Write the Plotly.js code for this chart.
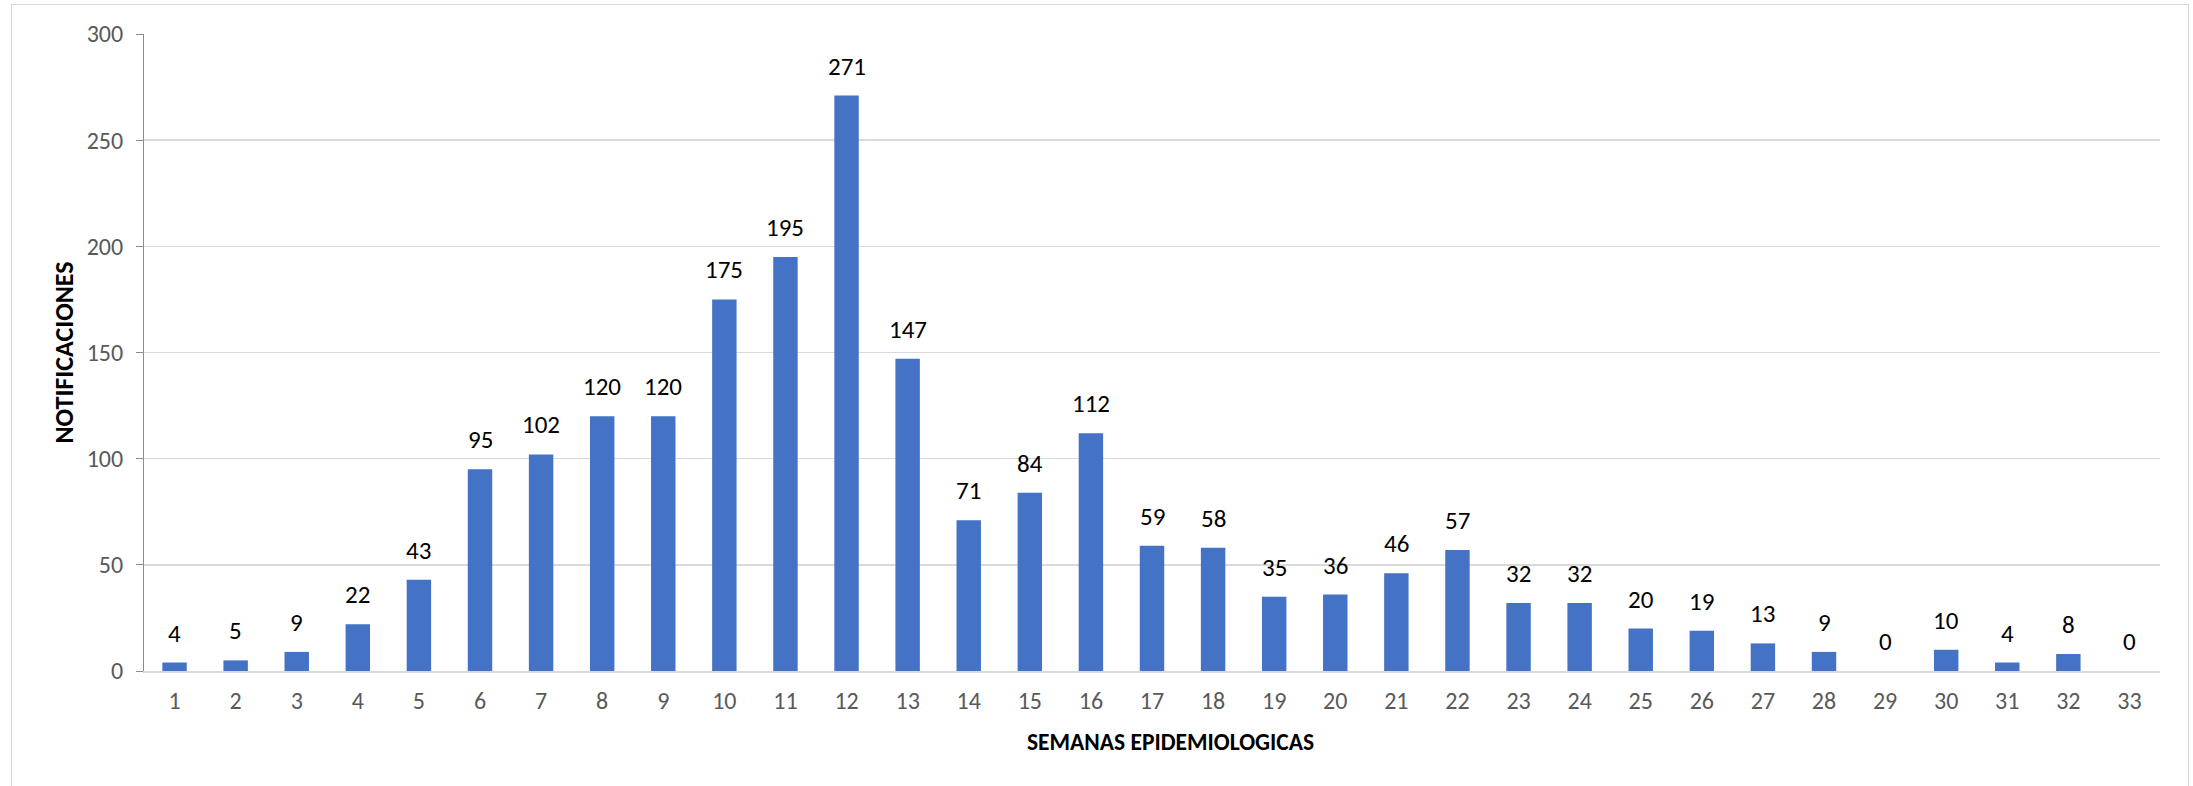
<!DOCTYPE html>
<html>
<head>
<meta charset="utf-8">
<script src="https://cdn.plot.ly/plotly-3.0.1.min.js"></script>
<style>
html,body{margin:0;padding:0;background:#fff;}
#chart{width:2193px;height:786px;}
#frame{position:absolute;left:11px;top:4px;width:2176px;height:790px;border:1.5px solid #d9d9d9;pointer-events:none;}
</style>
</head>
<body>
<div id="chart"></div>
<div id="frame"></div>
<script>
const semanas = [1,2,3,4,5,6,7,8,9,10,11,12,13,14,15,16,17,18,19,20,21,22,23,24,25,26,27,28,29,30,31,32,33];
const notificaciones = [4,5,9,22,43,95,102,120,120,175,195,271,147,71,84,112,59,58,35,36,46,57,32,32,20,19,13,9,0,10,4,8,0];
const yTicks = [0,50,100,150,200,250,300];
const xTitle = 'SEMANAS EPIDEMIOLOGICAS';
const yTitle = 'NOTIFICACIONES';

const baseFamily = 'Carlito, Calibri, "Open Sans", sans-serif';
const tickFont = {family: baseFamily, size: 24, color: '#595959'};
const titleFont = {family: baseFamily, size: 26, color: '#000', weight: 'bold'};

const annotations = semanas.map((s, i) => ({
  x: s, y: notificaciones[i], xref: 'x', yref: 'y',
  text: String(notificaciones[i]), showarrow: false,
  yanchor: 'bottom', yshift: 12,
  font: {family: baseFamily, size: 25, color: '#000'}
}));
annotations.push({
  xref: 'paper', yref: 'paper', x: 0.509, y: -0.1115,
  xanchor: 'center', yanchor: 'middle', showarrow: false,
  text: xTitle,
  font: {family: baseFamily, size: 23.5, color: '#000', weight: 'bold'}
});

const trace = {
  type: 'bar', x: semanas, y: notificaciones,
  marker: {color: '#4472C4'},
  width: 0.4,
  hoverinfo: 'x+y'
};

const layout = {
  width: 2193, height: 786,
  margin: {l: 144, r: 33, t: 34, b: 115},
  paper_bgcolor: '#fff', plot_bgcolor: '#fff',
  showlegend: false,
  xaxis: {
    range: [0.5, 33.5],
    tickvals: semanas,
    ticktext: semanas.map(String),
    tickfont: tickFont,
    showgrid: false, zeroline: false,
    showline: true, linecolor: '#d9d9d9', linewidth: 1.5,
    ticks: '', ticklabelstandoff: 8
  },
  yaxis: {
    range: [0, 300],
    tickvals: yTicks,
    tickfont: tickFont,
    showgrid: true, gridcolor: '#d9d9d9', gridwidth: 1.5,
    zeroline: false,
    showline: true, linecolor: '#8c8c8c', linewidth: 1,
    ticks: 'outside', ticklen: 7, tickcolor: '#8c8c8c', tickwidth: 1,
    ticklabelstandoff: 8,
    title: {text: yTitle, font: titleFont, standoff: 5}
  },
  annotations: annotations
};

Plotly.newPlot('chart', [trace], layout, {displayModeBar: false, staticPlot: true});
</script>
</body>
</html>
